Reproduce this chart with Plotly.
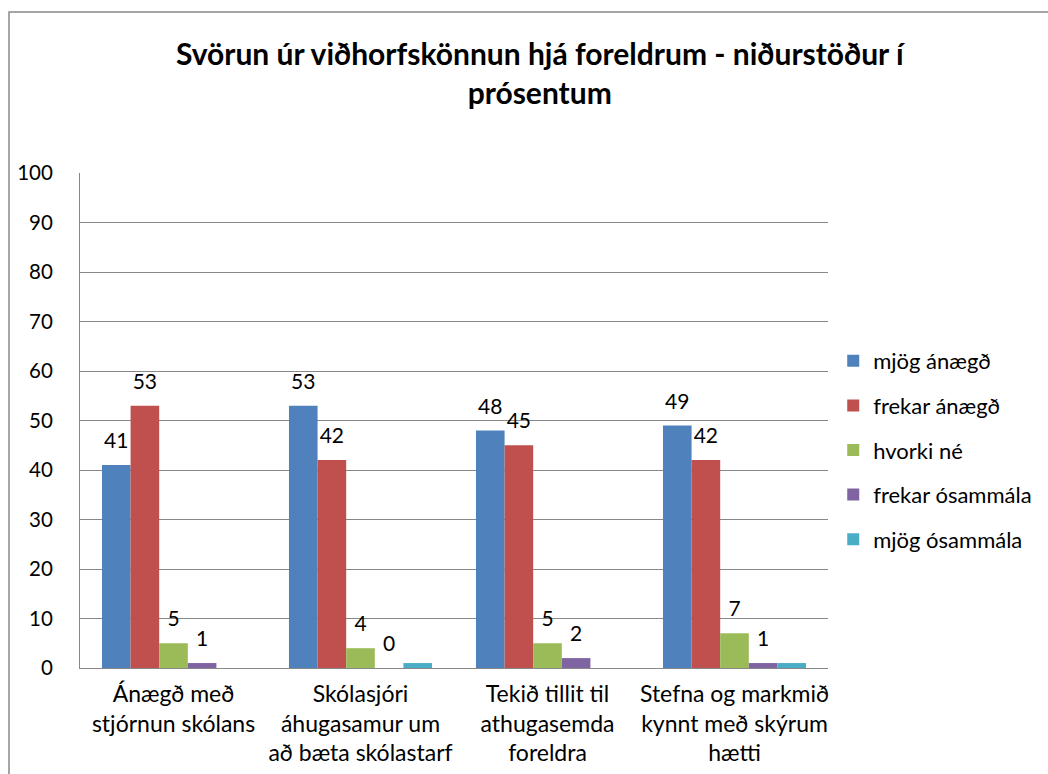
import plotly.graph_objects as go

categories = [
    "Ánægð með<br>stjórnun skólans",
    "Skólasjóri<br>áhugasamur um<br>að bæta skólastarf",
    "Tekið tillit til<br>athugasemda<br>foreldra",
    "Stefna og markmið<br>kynnt með skýrum<br>hætti",
]
series_names = ["mjög ánægð", "frekar ánægð", "hvorki né", "frekar ósammála", "mjög ósammála"]
mjog_anaegd = [41, 53, 48, 49]
frekar_anaegd = [53, 42, 45, 42]
hvorki_ne = [5, 4, 5, 7]
frekar_osammala = [1, 0, 2, 1]
mjog_osammala = [0, 1, 0, 1]
show_labels = [True, True, True, True, False]
colors = ["#4F81BD", "#C0504D", "#9BBB59", "#8064A2", "#4BACC6"]

values = [mjog_anaegd, frekar_anaegd, hvorki_ne, frekar_osammala, mjog_osammala]
FONT = "Lato, 'Open Sans', sans-serif"
GAP = 0.235

fig = go.Figure()
for i, (name, vals, col) in enumerate(zip(series_names, values, colors)):
    fig.add_trace(go.Bar(
        x=categories, y=vals, name=name,
        marker=dict(color=col, line=dict(width=0)),
        legendgroup=f"g{i}",
    ))
# data labels, grouped the same way as the bars
for i, (name, vals, lab) in enumerate(zip(series_names, values, show_labels)):
    fig.add_trace(go.Scatter(
        x=categories, y=vals, mode="markers+text",
        text=[str(v) for v in vals] if lab else [""] * len(vals),
        textposition="top center",
        textfont=dict(size=21, color="#000000", family=FONT),
        marker=dict(size=17, opacity=0),
        showlegend=False, hoverinfo="skip", cliponaxis=False,
    ))

fig.update_layout(
    width=1048, height=774,
    paper_bgcolor="white", plot_bgcolor="white",
    barmode="group", bargap=GAP, bargroupgap=0,
    scattermode="group", scattergap=GAP,
    margin=dict(l=80, r=220, t=173, b=106, autoexpand=False),
    font=dict(family=FONT, color="#000000"),
    title=dict(
        text="<b>Svörun úr viðhorfskönnun hjá foreldrum - niðurstöður í<br>prósentum</b>",
        x=0.515, xanchor="center", y=1 - 65 / 774, yanchor="top",
        font=dict(size=30, family=FONT, color="#000000"),
    ),
    legend=dict(
        x=1.007, y=0.6626, xanchor="left", yanchor="top",
        font=dict(size=22, family=FONT, color="#000000"),
        traceorder="grouped", tracegroupgap=13,
        itemwidth=30,
        bgcolor="rgba(0,0,0,0)",
    ),
    showlegend=True,
)
fig.update_yaxes(
    range=[0, 100], dtick=10, showgrid=True, gridcolor="#888888", gridwidth=1,
    showline=True, linecolor="#888888", linewidth=1,
    ticks="", ticklabelstandoff=22, automargin=False,
    tickfont=dict(size=20.5, family=FONT, color="#000000"),
    zeroline=False,
)
fig.update_xaxes(
    showline=True, linecolor="#888888", linewidth=1, automargin=False,
    ticks="", ticklabelstandoff=5,
    tickfont=dict(size=23, family=FONT, color="#000000"),
)
fig.add_shape(type="rect", xref="paper", yref="paper",
              x0=(9 - 80) / 748, x1=1.5, y0=-0.5, y1=(668 - 12) / 495,
              line=dict(color="#888888", width=1.5), fillcolor="rgba(0,0,0,0)", layer="below")

fig.write_html("out.html", post_script="document.body.style.margin='0';",
               config={"displayModeBar": False})
